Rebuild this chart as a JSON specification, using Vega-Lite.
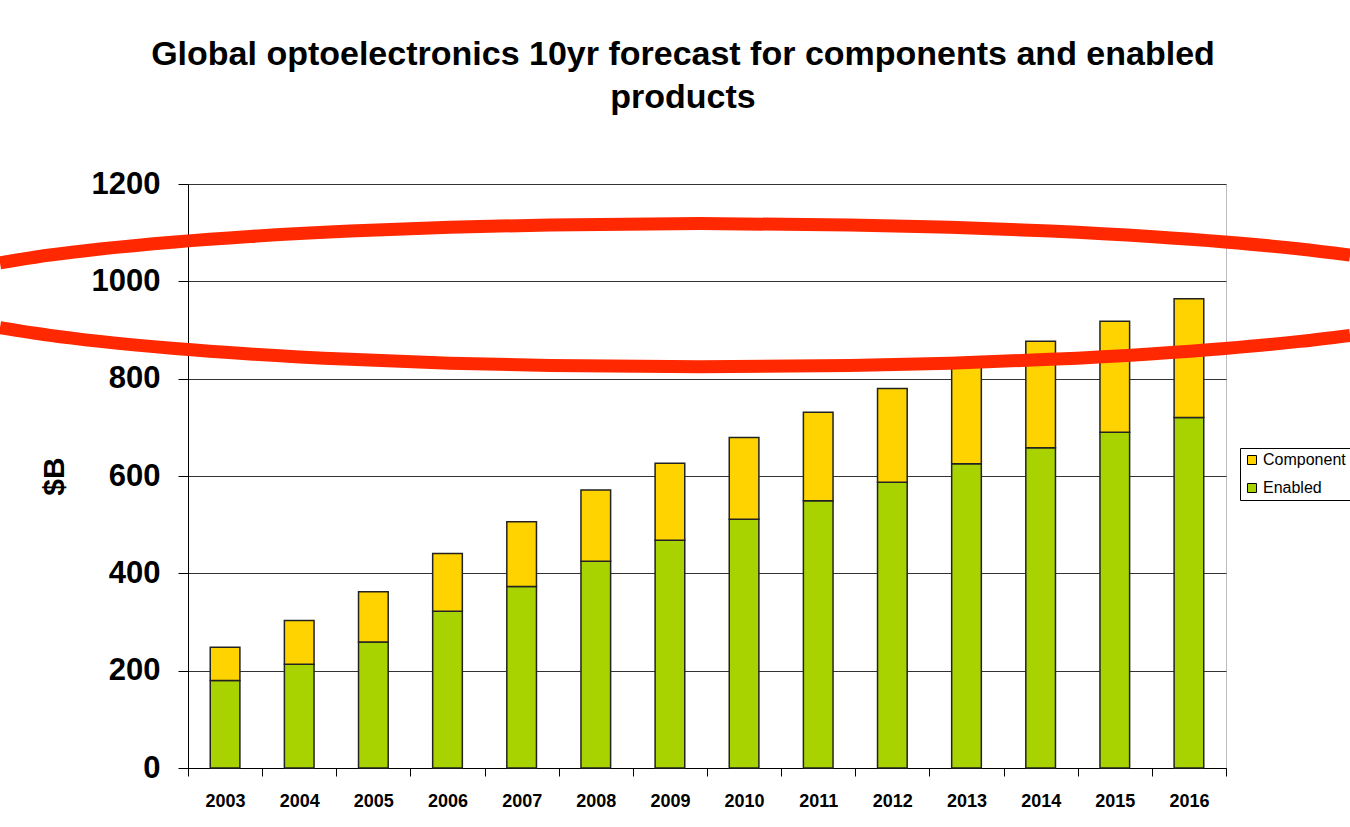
{
  "$schema": "https://vega.github.io/schema/vega-lite/v6.json",
  "autosize": {"type": "none"},
  "width": 1038,
  "height": 584,
  "padding": {"left": 188, "top": 184, "right": 124, "bottom": 59},
  "background": "white",
  "config": {
    "font": "Liberation Sans",
    "view": {"stroke": "#bdbdbd", "strokeWidth": 1}
  },
  "title": {
    "text": ["Global optoelectronics 10yr forecast for components and enabled", "products"],
    "fontSize": 34,
    "fontWeight": "bold",
    "color": "black",
    "lineHeight": 43,
    "anchor": "middle",
    "frame": "group",
    "dx": -24,
    "offset": 53
  },
  "layer": [
    {
      "data": {
        "values": [
          {"year": "2003", "series": "Enabled", "value": 180},
          {"year": "2003", "series": "Component", "value": 68},
          {"year": "2004", "series": "Enabled", "value": 213},
          {"year": "2004", "series": "Component", "value": 90},
          {"year": "2005", "series": "Enabled", "value": 259},
          {"year": "2005", "series": "Component", "value": 103},
          {"year": "2006", "series": "Enabled", "value": 322},
          {"year": "2006", "series": "Component", "value": 119},
          {"year": "2007", "series": "Enabled", "value": 373},
          {"year": "2007", "series": "Component", "value": 133},
          {"year": "2008", "series": "Enabled", "value": 425},
          {"year": "2008", "series": "Component", "value": 146},
          {"year": "2009", "series": "Enabled", "value": 468},
          {"year": "2009", "series": "Component", "value": 158},
          {"year": "2010", "series": "Enabled", "value": 511},
          {"year": "2010", "series": "Component", "value": 168},
          {"year": "2011", "series": "Enabled", "value": 549},
          {"year": "2011", "series": "Component", "value": 182},
          {"year": "2012", "series": "Enabled", "value": 587},
          {"year": "2012", "series": "Component", "value": 193},
          {"year": "2013", "series": "Enabled", "value": 625},
          {"year": "2013", "series": "Component", "value": 205},
          {"year": "2014", "series": "Enabled", "value": 658},
          {"year": "2014", "series": "Component", "value": 219},
          {"year": "2015", "series": "Enabled", "value": 690},
          {"year": "2015", "series": "Component", "value": 228},
          {"year": "2016", "series": "Enabled", "value": 720},
          {"year": "2016", "series": "Component", "value": 244}
        ]
      },
      "mark": {"type": "bar", "stroke": "#222222", "strokeWidth": 1.5, "width": {"band": 0.4}},
      "encoding": {
        "x": {
          "field": "year",
          "type": "nominal",
          "scale": {"paddingInner": 0, "paddingOuter": 0},
          "axis": {
            "title": null,
            "labelAngle": 0,
            "labelFontSize": 18,
            "labelFontWeight": "bold",
            "labelColor": "black",
            "labelPadding": 16,
            "tickBand": "extent",
            "tickSize": 8,
            "tickColor": "black",
            "domainColor": "black",
            "grid": false
          }
        },
        "y": {
          "field": "value",
          "type": "quantitative",
          "stack": "zero",
          "scale": {"domain": [0, 1200], "nice": false},
          "axis": {
            "title": "$B",
            "titleFontSize": 30,
            "titleFontWeight": "bold",
            "titleColor": "black",
            "titlePadding": 22,
            "values": [0, 200, 400, 600, 800, 1000, 1200],
            "format": "d",
            "labelFontSize": 31,
            "labelFontWeight": "bold",
            "labelColor": "black",
            "labelPadding": 18,
            "tickSize": 10,
            "tickColor": "black",
            "domainColor": "black",
            "grid": true,
            "gridColor": "#333333",
            "gridWidth": 1
          }
        },
        "color": {
          "field": "series",
          "type": "nominal",
          "scale": {"domain": ["Component", "Enabled"], "range": ["#ffd300", "#a9d300"]},
          "legend": {
            "title": null,
            "orient": "none",
            "legendX": 1052,
            "legendY": 264,
            "symbolType": "square",
            "symbolSize": 81,
            "symbolStrokeColor": "black",
            "symbolStrokeWidth": 1,
            "labelFontSize": 16,
            "labelColor": "black",
            "labelOffset": 3,
            "rowPadding": 12,
            "padding": 4,
            "strokeColor": "black",
            "fillColor": "white"
          }
        },
        "order": {"field": "series", "sort": "descending"}
      }
    },
    {
      "data": {
        "values": [
          {"edge": "top", "pos": 1999.964, "value": 1038.1},
          {"edge": "top", "pos": 2000.639, "value": 1054.0},
          {"edge": "top", "pos": 2001.313, "value": 1066.4},
          {"edge": "top", "pos": 2002.325, "value": 1080.9},
          {"edge": "top", "pos": 2003.336, "value": 1092.1},
          {"edge": "top", "pos": 2004.685, "value": 1103.3},
          {"edge": "top", "pos": 2006.034, "value": 1111.1},
          {"edge": "top", "pos": 2007.383, "value": 1116.0},
          {"edge": "top", "pos": 2009.406, "value": 1118.7},
          {"edge": "top", "pos": 2011.429, "value": 1116.0},
          {"edge": "top", "pos": 2012.778, "value": 1111.1},
          {"edge": "top", "pos": 2014.127, "value": 1103.3},
          {"edge": "top", "pos": 2015.475, "value": 1092.1},
          {"edge": "top", "pos": 2016.487, "value": 1080.9},
          {"edge": "top", "pos": 2017.499, "value": 1066.4},
          {"edge": "top", "pos": 2018.173, "value": 1054.0},
          {"edge": "bottom", "pos": 1999.964, "value": 904.9},
          {"edge": "bottom", "pos": 2000.639, "value": 889.0},
          {"edge": "bottom", "pos": 2001.313, "value": 876.6},
          {"edge": "bottom", "pos": 2002.325, "value": 862.1},
          {"edge": "bottom", "pos": 2003.336, "value": 850.9},
          {"edge": "bottom", "pos": 2004.685, "value": 839.7},
          {"edge": "bottom", "pos": 2006.034, "value": 831.9},
          {"edge": "bottom", "pos": 2007.383, "value": 827.0},
          {"edge": "bottom", "pos": 2009.406, "value": 824.3},
          {"edge": "bottom", "pos": 2011.429, "value": 827.0},
          {"edge": "bottom", "pos": 2012.778, "value": 831.9},
          {"edge": "bottom", "pos": 2014.127, "value": 839.7},
          {"edge": "bottom", "pos": 2015.475, "value": 850.9},
          {"edge": "bottom", "pos": 2016.487, "value": 862.1},
          {"edge": "bottom", "pos": 2017.499, "value": 876.6},
          {"edge": "bottom", "pos": 2018.173, "value": 889.0}
        ]
      },
      "mark": {"type": "line", "color": "#ff2800", "strokeWidth": 13, "interpolate": "monotone", "clip": false},
      "encoding": {
        "x": {"field": "pos", "type": "quantitative", "scale": {"domain": [2002.5, 2016.5], "nice": false, "zero": false}, "axis": null},
        "y": {"field": "value", "type": "quantitative"},
        "detail": {"field": "edge", "type": "nominal"}
      }
    }
  ],
  "resolve": {"scale": {"x": "independent"}}
}
